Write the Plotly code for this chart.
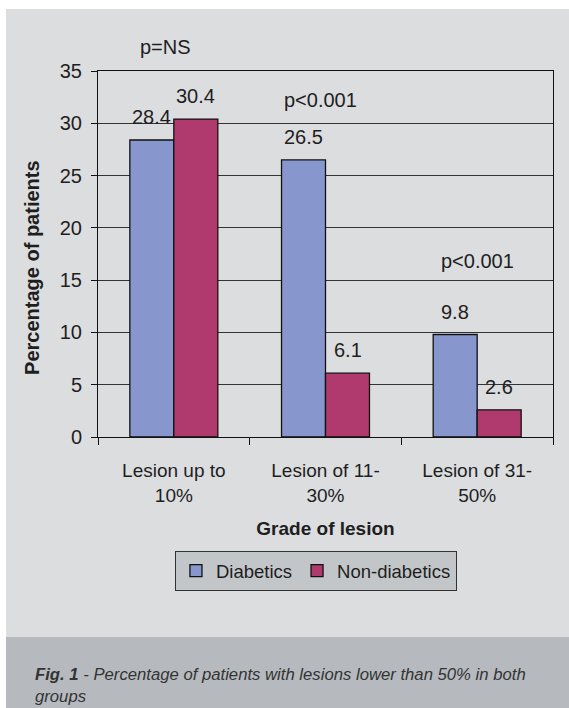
import plotly.graph_objects as go

categories = ["Lesion up to<br>10%", "Lesion of 11-<br>30%", "Lesion of 31-<br>50%"]
diabetics = [28.4, 26.5, 9.8]
non_diabetics = [30.4, 6.1, 2.6]
series_names = ["Diabetics", "Non-diabetics"]
p_labels = ["p=NS", "p<0.001", "p<0.001"]
p_label_y = [37.3, 32.2, 16.8]
p_label_shift = [-8, -5, 0]
y_ticks = [0, 5, 10, 15, 20, 25, 30, 35]
Y_MAX = 35

FONT = "Liberation Sans, Arial, sans-serif"
TXT = "#1e1e1e"
FS = 19

fig = go.Figure()
fig.add_trace(go.Bar(name=series_names[0], x=categories, y=diabetics,
                     marker=dict(color="#8796cc", line=dict(color="#111111", width=1.3))))
fig.add_trace(go.Bar(name=series_names[1], x=categories, y=non_diabetics,
                     marker=dict(color="#b03a6e", line=dict(color="#111111", width=1.3))))

annotations = []
for cat, v in zip(categories, diabetics):
    annotations.append(dict(x=cat, y=v, xref="x", yref="y", text=f"{v:.1f}", showarrow=False,
                            xshift=-22, yshift=10, yanchor="bottom", font=dict(size=FS + 1, color=TXT, family=FONT)))
for cat, v in zip(categories, non_diabetics):
    annotations.append(dict(x=cat, y=v, xref="x", yref="y", text=f"{v:.1f}", showarrow=False,
                            xshift=22, yshift=10, yanchor="bottom", font=dict(size=FS + 1, color=TXT, family=FONT)))
for cat, t, yv, sh in zip(categories, p_labels, p_label_y, p_label_shift):
    annotations.append(dict(x=cat, y=yv / Y_MAX, xref="x", yref="paper", text=t, showarrow=False,
                            xanchor="center", yanchor="middle",
                            xshift=sh, font=dict(size=FS + 1, color=TXT, family=FONT)))
annotations.append(dict(
    x=-0.1425, y=-0.6175, xref="paper", yref="paper", xanchor="left", yanchor="top", align="left",
    showarrow=False,
    text="<b><i>Fig. 1</i></b><i> - Percentage of patients with lesions lower than 50% in both</i><br><i>groups</i>",
    font=dict(size=16.7, color="#333333", family=FONT)))
annotations.append(dict(x=-0.145, y=0.462, xref="paper", yref="paper", textangle=-90, showarrow=False,
                        xanchor="center", yanchor="middle",
                        text="<b>Percentage of patients</b>", font=dict(size=20, color=TXT, family=FONT)))

shapes = [
    dict(type="rect", xref="paper", yref="paper", x0=-0.2022, x1=1.05, y0=-0.5464, y1=1.1694,
         fillcolor="#dcdddf", line=dict(width=0), layer="below"),
    dict(type="rect", xref="paper", yref="paper", x0=-0.2022, x1=1.05, y0=-0.75, y1=-0.5464,
         fillcolor="#b6babe", line=dict(width=0), layer="below"),
]

fig.update_layout(
    width=569, height=708,
    margin=dict(l=98, r=16, t=71, b=271),
    paper_bgcolor="white", plot_bgcolor="rgba(0,0,0,0)",
    barmode="group", bargap=0.42, bargroupgap=0,
    font=dict(family=FONT, size=FS, color=TXT),
    showlegend=True,
    legend=dict(orientation="h", x=0.479, xanchor="center", y=-0.3115, yanchor="top",
                bgcolor="#c3c6c9", bordercolor="#333333", borderwidth=1,
                font=dict(size=18.5, color=TXT, family=FONT), itemwidth=30, tracegroupgap=0),
    annotations=annotations, shapes=shapes,
)
fig.update_xaxes(showline=True, mirror=True, linecolor="#111111", linewidth=1,
                 ticks="outside", tickson="boundaries", ticklen=7, tickcolor="#111111",
                 showgrid=False, ticklabelstandoff=16,
                 title=dict(text="<b>Grade of lesion</b>", font=dict(size=FS, color=TXT), standoff=17),
                 tickfont=dict(size=FS, color=TXT))
fig.update_yaxes(range=[0, Y_MAX], tickvals=y_ticks, showline=True, mirror=True, linecolor="#111111", linewidth=1,
                 ticks="outside", ticklen=6, tickcolor="#111111",
                 showgrid=True, gridcolor="#333333", gridwidth=1, zeroline=False,
                 ticklabelstandoff=5, tickfont=dict(size=FS + 1, color=TXT))

fig.write_html("out.html", config={"displayModeBar": False},
               post_script="document.body.style.margin='0';document.body.style.overflow='hidden';")
